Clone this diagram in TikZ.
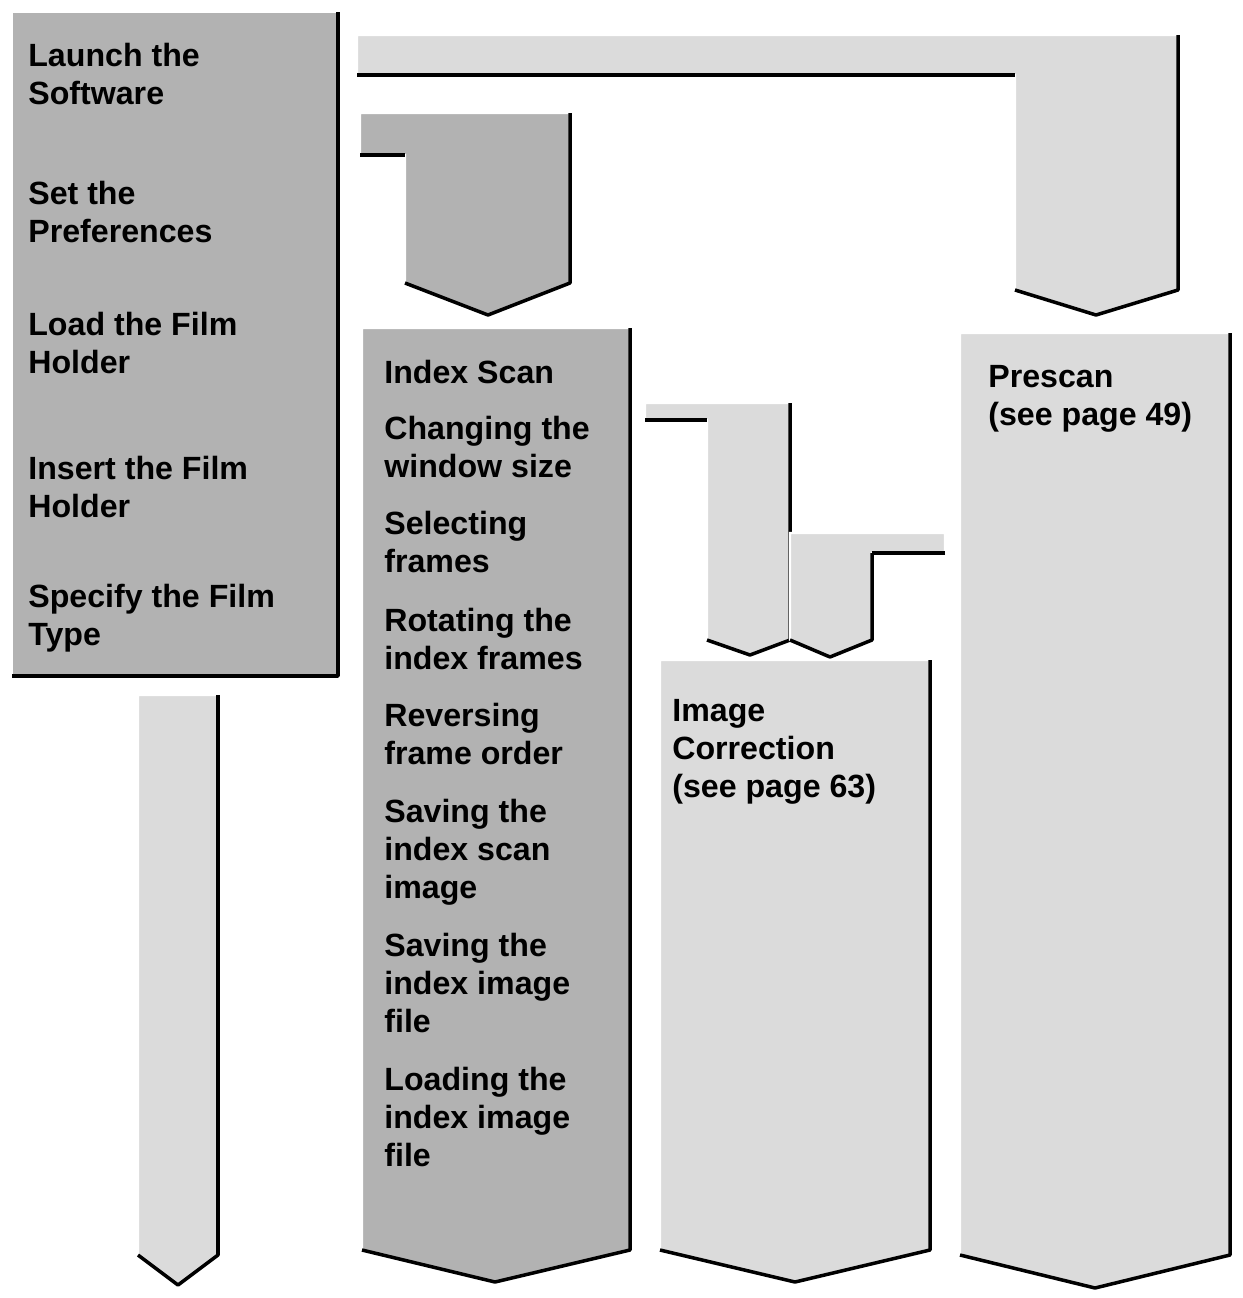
\documentclass[tikz,border=0pt]{standalone}
\usepackage{fontspec}
\setmainfont{Liberation Sans}
\tikzset{
  flowdark/.style={fill=black!30,draw=white,line width=1.2pt},
  flowlight/.style={fill=black!14,draw=white,line width=1.2pt},
  edge/.style={draw=black,line width=2pt,line join=round},
  flowtext/.style={anchor=base west,inner sep=0pt,font=\fontsize{18.3}{21.6}\selectfont\bfseries,align=left}
}
\begin{document}
\begin{tikzpicture}[x=0.02cm,y=-0.02cm]
			\useasboundingbox (0,0) rectangle (1243,1298);
			% left column
			\draw[flowdark] (12,12) rectangle (338,676);
			\draw[edge] (338,12)-- (338,676)-- (12,676);
			\draw[flowlight] (138,695)-- (218,695)-- (218,1255)-- (178,1285)-- (138,1255)-- cycle;
			\draw[edge] (218,695)-- (218,1255)-- (178,1285)-- (138,1255);
			% bent arrows
			\draw[flowlight] (357,35)-- (1178,35)-- (1178,290)-- (1096,315)-- (1015,290)-- (1015,75)-- (357,75)-- cycle;
			\draw[edge] (357,75)-- (1015,75);
			\draw[edge] (1178,35)-- (1178,290)-- (1096,315)-- (1015,290);
			\draw[flowdark] (360,113)-- (570,113)-- (570,283)-- (488,315)-- (405,283)-- (405,155)-- (360,155)-- cycle;
			\draw[edge] (360,155)-- (405,155);
			\draw[edge] (570,113)-- (570,283)-- (488,315)-- (405,283);
			\draw[flowlight] (645,403)-- (790,403)-- (790,640)-- (750,655)-- (707,640)-- (707,420)-- (645,420)-- cycle;
			\draw[edge] (645,420)-- (707,420);
			\draw[edge] (790,403)-- (790,640)-- (750,655)-- (707,640);
			\draw[flowlight] (790,533)-- (945,533)-- (945,553)-- (872,553)-- (872,640)-- (830,657)-- (790,640)-- cycle;
			\draw[edge] (945,553)-- (872,553);
			\draw[edge] (872,553)-- (872,640)-- (830,657)-- (790,640);
			% columns
			\draw[flowdark] (362,328)-- (630,328)-- (630,1250)-- (495,1282)-- (362,1250)-- cycle;
			\draw[edge] (630,328)-- (630,1250)-- (495,1282)-- (362,1250);
			\draw[flowlight] (660,660)-- (930,660)-- (930,1250)-- (795,1282)-- (660,1250)-- cycle;
			\draw[edge] (930,660)-- (930,1250)-- (795,1282)-- (660,1250);
			\draw[flowlight] (960,333)-- (1230,333)-- (1230,1255)-- (1095,1288)-- (960,1255)-- cycle;
			\draw[edge] (1230,333)-- (1230,1255)-- (1095,1288)-- (960,1255);
			% texts (base = last line)
			\node[flowtext] (launch) at (28,104) {Launch the\\Software};
			\node[flowtext] (prefs) at (28,242) {Set the\\Preferences};
			\node[flowtext] (load) at (28,373) {Load the Film\\Holder};
			\node[flowtext] (insert) at (28,517) {Insert the Film\\Holder};
			\node[flowtext] (type) at (28,645) {Specify the Film\\Type};
			\node[flowtext] (index) at (384,383) {Index Scan};
			\node[flowtext] (window) at (384,477) {Changing the\\window size};
			\node[flowtext] (select) at (384,572) {Selecting\\frames};
			\node[flowtext] (rotate) at (384,669) {Rotating the\\index frames};
			\node[flowtext] (reverse) at (384,764) {Reversing\\frame order};
			\node[flowtext] (savescan) at (384,898) {Saving the\\index scan\\image};
			\node[flowtext] (savefile) at (384,1032) {Saving the\\index image\\file};
			\node[flowtext] (loadfile) at (384,1166) {Loading the\\index image\\file};
			\node[flowtext] (correct) at (672,797) {Image\\Correction\\(see page 63)};
			\node[flowtext] (prescan) at (988,425) {Prescan\\(see page 49)};
\end{tikzpicture}
\end{document}
